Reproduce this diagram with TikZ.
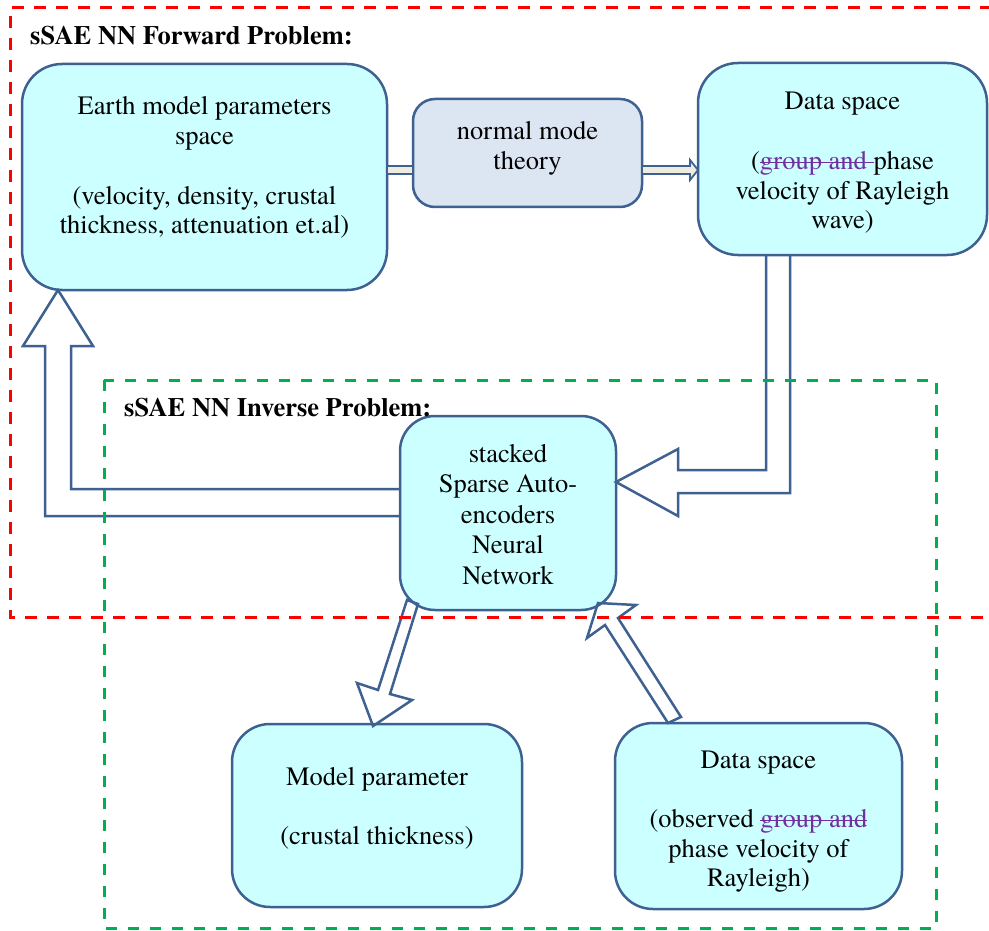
\documentclass[tikz,border=0pt]{standalone}
\usepackage{fontspec}
\setmainfont{texgyretermes-regular.otf}[BoldFont=texgyretermes-bold.otf]
\definecolor{boxline}{HTML}{3E6191}
\definecolor{cyanfill}{HTML}{CCFFFF}
\definecolor{grayblue}{HTML}{DCE6F2}
\definecolor{beige}{HTML}{EEECE1}
\definecolor{purp}{HTML}{7030A0}
\definecolor{dgreen}{HTML}{00B050}
\newcommand{\strk}[1]{{\color{purp}\setbox0\hbox{#1}\rlap{\rule[0.23em]{\wd0}{1.4pt}}\box0}}
\begin{document}
\begin{tikzpicture}[x=1pt,y=-1pt,
  box/.style={draw=boxline, line width=2.5pt, fill=cyanfill, inner sep=0pt, outer sep=0pt},
  txt/.style={anchor=base, inner sep=0pt, font=\fontsize{26.5}{29.7}\selectfont},
  head/.style={anchor=base west, inner sep=0pt, font=\fontsize{26.5}{29.7}\selectfont\bfseries},
  thinarrow/.style={draw=boxline, line width=1.8pt, fill=beige, line join=miter},
  blockarrow/.style={draw=boxline, line width=2.5pt, line join=miter},
  reddash/.style={draw=red, line width=3pt, dash pattern=on 12pt off 10pt},
  greendash/.style={draw=dgreen, line width=3pt, dash pattern=on 11pt off 11pt}]
\fill[white] (0,0) rectangle (989,931);
\useasboundingbox (0,0) rectangle (989,931);

% boxes
\node[box, rounded corners=40pt, minimum width=365pt, minimum height=226pt] (earth) at (204.5,177) {};
\node[box, rounded corners=22pt, fill=grayblue, minimum width=229pt, minimum height=108pt] (normal) at (527.5,153) {};
\node[box, rounded corners=40pt, minimum width=289pt, minimum height=192pt] (dtop) at (842.5,159) {};
\node[box, rounded corners=35pt, minimum width=216pt, minimum height=194pt] (stack) at (508,513) {};
\node[box, rounded corners=38pt, minimum width=290pt, minimum height=183pt] (model) at (377,815.5) {};
\node[box, rounded corners=38pt, minimum width=287pt, minimum height=186pt] (dbot) at (758.5,816) {};

% texts
\node[head] (fwdT) at (30,45) {sSAE NN Forward Problem:};
\node[head] (invT) at (124,416) {sSAE NN Inverse Problem:};
\node[txt] (earthT) at (204.5,115) {\begin{tabular}[t]{@{}c@{}}Earth model parameters\\ space\\ \\ (velocity, density, crustal\\ thickness, attenuation et.al)\end{tabular}};
\node[txt] (normalT) at (527.5,140) {\begin{tabular}[t]{@{}c@{}}normal mode\\ theory\end{tabular}};
\node[txt] (dtopT) at (842.5,110) {\begin{tabular}[t]{@{}c@{}}Data space\\ \\ (\strk{group and\ }phase\\ velocity of Rayleigh\\ wave)\end{tabular}};
\node[txt, font=\fontsize{26.5}{30.5}\selectfont] (stackT) at (508,462) {\begin{tabular}[t]{@{}c@{}}stacked\\ Sparse Auto-\\ encoders\\ Neural\\ Network\end{tabular}};
\node[txt] (modelT) at (377,785) {\begin{tabular}[t]{@{}c@{}}Model parameter\\ \\ (crustal thickness)\end{tabular}};
\node[txt] (dbotT) at (758.5,768) {\begin{tabular}[t]{@{}c@{}}Data space\\ \\ (observed \strk{group and}\\ phase velocity of\\ Rayleigh)\end{tabular}};

% thin arrows
\draw[thinarrow] (earth.east |- 0,166) rectangle (normal.west |- 0,174);
\draw[thinarrow] (normal.east |- 0,166) -- (690,166) -- (690,160) -- (dtop.west |- 0,170) -- (690,180) -- (690,174) -- (normal.east |- 0,174) -- cycle;

% block arrows
\draw[blockarrow] (766,255) -- (766,470) -- (678,470) -- (678,449) -- (stack.east |- 0,482) -- (678,516) -- (678,493) -- (790,493) -- (790,255);
\draw[blockarrow] (stack.west |- 0,489) -- (71,489) -- (71,346) -- (93,346) -- (58,290) -- (23,346) -- (45,346) -- (45,516) -- (stack.west |- 0,516);
\draw[blockarrow] (407,600) -- (378,690) -- (357,683) -- (373,726) -- (412,700) -- (390,694) -- (418,604) -- cycle;
\draw[blockarrow] (668,723) -- (605,625) -- (587,638) -- (598,603) -- (636,605) -- (618,618) -- (681,717) -- cycle;

% dashed frames
\draw[reddash] (992,8) -- (10,8) -- (10,617) -- (992,617);
\draw[greendash] (104,380) rectangle (936,928);
\end{tikzpicture}
\end{document}
